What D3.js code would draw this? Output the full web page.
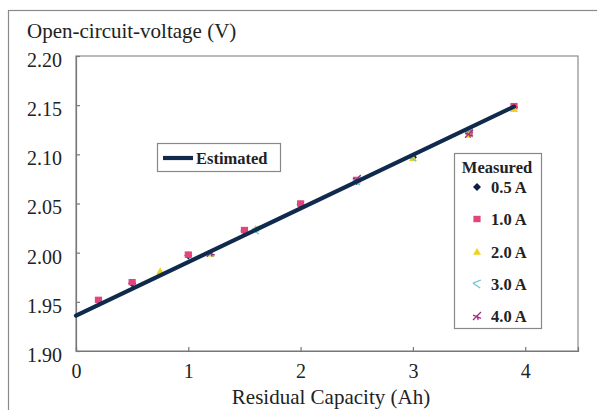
<!DOCTYPE html>
<html>
<head>
<meta charset="utf-8">
<script src="https://cdn.jsdelivr.net/npm/d3@7"></script>
<style>
  html, body { margin: 0; padding: 0; background: #fff; }
  svg { display: block; }
  text { font-family: "Liberation Serif", "Times New Roman", serif; fill: #222; }
</style>
</head>
<body>
<svg id="chart" width="597" height="410"></svg>
<script>
// Axis ticks
const xTicks = [0, 1, 2, 3, 4];
const yTicks = [1.90, 1.95, 2.00, 2.05, 2.10, 2.15, 2.20];

// Estimated open-circuit voltage line (end points)
const estCapacity = [0, 3.9];
const estVoltage = [1.936, 2.1485];

// Measured points per discharge current
const currents = ["0.5 A", "1.0 A", "2.0 A", "3.0 A", "4.0 A"];
const cap05 = [0.5, 1.0, 1.5, 2.0, 2.5, 3.0, 3.5, 3.9];
const ocv05 = [1.969, 1.997, 2.022, 2.049, 2.073, 2.097, 2.122, 2.148];
const cap10 = [0.2, 0.5, 1.0, 1.5, 2.0, 2.5, 3.5, 3.9];
const ocv10 = [1.952, 1.970, 1.998, 2.023, 2.050, 2.074, 2.123, 2.149];
const cap20 = [0.75, 1.2, 1.6, 2.5, 3.0, 3.5, 3.9];
const ocv20 = [1.981, 1.999, 2.024, 2.073, 2.096, 2.120, 2.146];
const cap30 = [1.2, 1.6, 2.5, 3.0, 3.5];
const ocv30 = [2.000, 2.023, 2.073, 2.097, 2.122];
const cap40 = [1.2, 2.5, 3.5];
const ocv40 = [2.000, 2.075, 2.121];

const seriesCaps = [cap05, cap10, cap20, cap30, cap40];
const seriesOcvs = [ocv05, ocv10, ocv20, ocv30, ocv40];
const seriesColors = ["#0d1f45", "#e0457d", "#f2d21a", "#6cc6d0", "#a0307e"];
const seriesShapes = ["diamond", "square", "triangle", "x", "star"];

const svg = d3.select("#chart");

// outer frame (runs past the right and bottom edges)
svg.append("rect").attr("x", 8.5).attr("y", 10.5).attr("width", 700).attr("height", 500)
  .attr("fill", "none").attr("stroke", "#8a8a8a").attr("stroke-width", 1.2);

const plotL = 76, plotT = 56, plotR = 578, plotB = 351;
const x = d3.scaleLinear().domain([0, 4.47]).range([plotL, plotR]);
const y = d3.scaleLinear().domain([1.90, 2.20]).range([plotB, plotT]);

// plot area border
svg.append("rect").attr("x", plotL).attr("y", plotT).attr("width", plotR - plotL).attr("height", plotB - plotT)
  .attr("fill", "none").attr("stroke", "#8c8c8c").attr("stroke-width", 1.2);

// axes with inward ticks
const xAxis = svg.append("g").attr("transform", `translate(0,${plotB})`)
  .call(d3.axisBottom(x).tickValues(xTicks).tickFormat(d3.format("d")).tickSize(-4).tickPadding(13));
const yAxis = svg.append("g").attr("transform", `translate(${plotL},0)`)
  .call(d3.axisLeft(y).tickValues(yTicks).tickFormat(d3.format(".2f")).tickSize(-4).tickPadding(14));
[xAxis, yAxis].forEach(g => {
  g.select(".domain").attr("stroke", "#777").attr("stroke-width", 1.2);
  g.selectAll(".tick line").attr("stroke", "#777").attr("stroke-width", 1.2);
  g.selectAll(".tick text").attr("font-size", 20).attr("fill", "#222")
    .style("font-family", "'Liberation Serif', serif");
});
yAxis.selectAll(".tick text").attr("dy", "0.52em");

// axis titles
svg.append("text").attr("x", 27).attr("y", 37.5).attr("font-size", 21)
  .text("Open-circuit-voltage (V)");
svg.append("text").attr("x", 331).attr("y", 404).attr("font-size", 21).attr("text-anchor", "middle")
  .text("Residual Capacity (Ah)");

// marker drawing helper
function marker(g, shape, color, cx, cy, s) {
  if (shape === "diamond") {
    g.append("path").attr("d", `M${cx},${cy - s}L${cx + s},${cy}L${cx},${cy + s}L${cx - s},${cy}Z`).attr("fill", color);
  } else if (shape === "square") {
    g.append("rect").attr("x", cx - s * 0.9).attr("y", cy - s * 0.8).attr("width", s * 1.8).attr("height", s * 1.6).attr("fill", color);
  } else if (shape === "triangle") {
    g.append("path").attr("d", `M${cx},${cy - s}L${cx + s},${cy + s * 0.7}L${cx - s},${cy + s * 0.7}Z`).attr("fill", color);
  } else if (shape === "x") {
    g.append("path").attr("d", `M${cx - s},${cy - s * 0.2}L${cx + s},${cy - s}M${cx - s},${cy - s * 0.2}L${cx + s * 0.8},${cy + s}`)
      .attr("stroke", color).attr("stroke-width", 1.3).attr("fill", "none");
  } else {
    g.append("path").attr("d", `M${cx - s},${cy + s}L${cx + s},${cy - s}M${cx - s},${cy - s * 0.2}L${cx + s},${cy + s * 0.6}M${cx},${cy - s * 0.3}L${cx + s * 0.3},${cy + s}`)
      .attr("stroke", color).attr("stroke-width", 1.3).attr("fill", "none");
  }
}

// measured points
const pts = svg.append("g");
seriesCaps.forEach((caps, i) => {
  caps.forEach((c, j) => marker(pts, seriesShapes[i], seriesColors[i], x(c), y(seriesOcvs[i][j]), 4));
});

// estimated line
const line = d3.line().x(d => x(d)).y((d, i) => y(estVoltage[i]));
svg.append("path").datum(estCapacity).attr("d", line)
  .attr("fill", "none").attr("stroke", "#0f2a4d").attr("stroke-width", 4.2).attr("stroke-linecap", "round");

// "Estimated" legend
const lg1 = svg.append("g");
lg1.append("rect").attr("x", 157.5).attr("y", 143.5).attr("width", 123).attr("height", 28)
  .attr("fill", "#fff").attr("stroke", "#888").attr("stroke-width", 1.2);
lg1.append("line").attr("x1", 163).attr("x2", 193).attr("y1", 158).attr("y2", 158)
  .attr("stroke", "#0f2a4d").attr("stroke-width", 4.2);
lg1.append("text").attr("x", 196).attr("y", 164).attr("font-size", 16.5).attr("font-weight", "bold")
  .attr("fill", "#2a2a2a").text("Estimated");

// "Measured" legend
const lg2 = svg.append("g");
lg2.append("rect").attr("x", 454.5).attr("y", 153.5).attr("width", 87).attr("height", 175)
  .attr("fill", "#fff").attr("stroke", "#888").attr("stroke-width", 1.2);
lg2.append("text").attr("x", 497).attr("y", 173).attr("font-size", 16.5).attr("font-weight", "bold")
  .attr("text-anchor", "middle").attr("fill", "#2a2a2a").text("Measured");
const rowY = [187, 219, 252, 284, 316];
currents.forEach((lab, i) => {
  marker(lg2, seriesShapes[i], seriesColors[i], 477, rowY[i], 4);
  lg2.append("text").attr("x", 491).attr("y", rowY[i] + 5.5).attr("font-size", 16.5).attr("font-weight", "bold")
    .attr("fill", "#2a2a2a").text(lab);
});
</script>
</body>
</html>
